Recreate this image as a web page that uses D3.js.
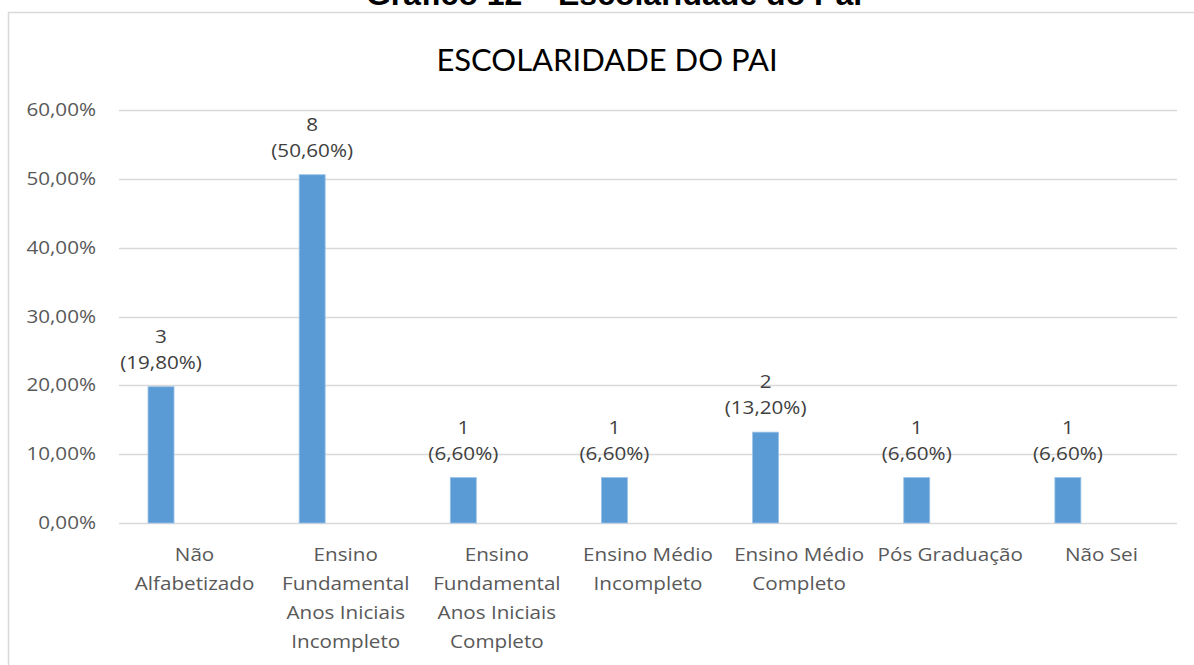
<!DOCTYPE html>
<html>
<head>
<meta charset="utf-8">
<script src="https://cdn.jsdelivr.net/npm/d3@7"></script>
<style>
  body { margin: 0; background: #fff; }
  svg { display: block; }
  .tick-label, .cat-label { fill: #595959; font-family: "Open Sans", sans-serif; font-size: 17.5px; }
  .data-label { fill: #404040; font-family: "Open Sans", sans-serif; font-size: 17.5px; }
</style>
</head>
<body>
<div id="chart"></div>
<script>
// data
const categories = [
  ["Não", "Alfabetizado"],
  ["Ensino", "Fundamental", "Anos Iniciais", "Incompleto"],
  ["Ensino", "Fundamental", "Anos Iniciais", "Completo"],
  ["Ensino Médio", "Incompleto"],
  ["Ensino Médio", "Completo"],
  ["Pós Graduação"],
  ["Não Sei"]
];
const percents = [0.198, 0.506, 0.066, 0.066, 0.132, 0.066, 0.066];
const counts = [3, 8, 1, 1, 2, 1, 1];
const yTicks = [0, 0.1, 0.2, 0.3, 0.4, 0.5, 0.6];

const width = 1194;
const height = 665;
const plot = {left: 119, right: 1177, top: 110, bottom: 523};
// the original chart is stretched sideways, so its text is wider than tall
const stretch = 1.18;

const svg = d3.select("#chart").append("svg")
  .attr("width", width)
  .attr("height", height);

// header of the document, cut off at the top of the page
svg.append("text")
  .attr("x", 614)
  .attr("y", 5)
  .attr("text-anchor", "middle")
  .style("font-family", "'Liberation Sans', Arial, sans-serif")
  .style("font-weight", "bold")
  .style("font-size", "32px")
  .style("fill", "#000")
  .text("Gráfico 12 – Escolaridade do Pai");

// chart area border
svg.append("rect")
  .attr("x", 8.5)
  .attr("y", 12.5)
  .attr("width", 1200)
  .attr("height", 700)
  .attr("fill", "none")
  .attr("stroke", "#d9d9d9")
  .attr("stroke-width", 1.5);

svg.append("text")
  .attr("x", 607)
  .attr("y", 71)
  .attr("text-anchor", "middle")
  .style("font-family", "Lato, 'Open Sans', sans-serif")
  .style("font-size", "31px")
  .style("fill", "#000")
  .text("ESCOLARIDADE DO PAI");

const x = d3.scaleBand()
  .domain(d3.range(categories.length))
  .range([plot.left, plot.right]);

const y = d3.scaleLinear()
  .domain([0, 0.6])
  .range([plot.bottom, plot.top]);

const fmtPct = v => d3.format(".2f")(v * 100).replace(".", ",") + "%";
const place = (px, py) => `translate(${px},${py}) scale(${stretch},1)`;

// gridlines
svg.append("g")
  .selectAll("line")
  .data(yTicks)
  .join("line")
  .attr("x1", plot.left)
  .attr("x2", plot.right)
  .attr("y1", d => Math.round(y(d)) + 0.5)
  .attr("y2", d => Math.round(y(d)) + 0.5)
  .attr("stroke", "#d9d9d9")
  .attr("stroke-width", 1.5);

// y tick labels
svg.append("g")
  .selectAll("text")
  .data(yTicks)
  .join("text")
  .attr("class", "tick-label")
  .attr("transform", d => place(96, y(d)))
  .attr("dy", "0.35em")
  .attr("text-anchor", "end")
  .text(fmtPct);

// bars sit left of the band centre (second, empty series in the original)
const barOffset = x.bandwidth() * 0.192;
const barWidth = x.bandwidth() * 0.172;
const barCenter = i => x(i) + barOffset + barWidth / 2;

svg.append("g")
  .selectAll("rect")
  .data(percents)
  .join("rect")
  .attr("x", (d, i) => x(i) + barOffset)
  .attr("y", d => y(d))
  .attr("width", barWidth)
  .attr("height", d => y(0) - y(d))
  .attr("fill", "#5b9bd5")
  .attr("stroke", "#9dc3e6")
  .attr("stroke-width", 0.8);

// data labels: count above, percentage below
const labels = svg.append("g")
  .selectAll("text")
  .data(percents)
  .join("text")
  .attr("class", "data-label")
  .attr("text-anchor", "middle")
  .attr("transform", (d, i) => place(barCenter(i), y(d) - 18));

labels.append("tspan")
  .attr("x", 0)
  .attr("dy", -26)
  .text((d, i) => counts[i]);

labels.append("tspan")
  .attr("x", 0)
  .attr("dy", 26)
  .text(d => "(" + fmtPct(d) + ")");

// category labels
svg.append("g")
  .selectAll("text")
  .data(categories)
  .join("text")
  .attr("class", "cat-label")
  .attr("text-anchor", "middle")
  .attr("transform", (d, i) => place(x(i) + x.bandwidth() / 2, 0))
  .each(function (lines) {
    const t = d3.select(this);
    lines.forEach((line, j) => {
      t.append("tspan")
        .attr("x", 0)
        .attr("y", 561 + j * 29)
        .text(line);
    });
  });
</script>
</body>
</html>
